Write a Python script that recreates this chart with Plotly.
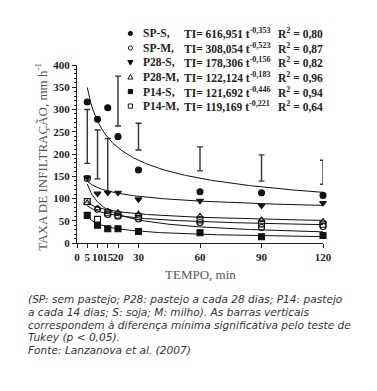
import numpy as np
import plotly.graph_objects as go

# ---- data ----
tempo = [5, 10, 15, 20, 30, 60, 90, 120]
sp_s  = [317, 278, 304, 239, 164, 115, 113, 107]
sp_m  = [145, 76, 64, 60, 54, 46, 35, 37]
p28_s = [147, 111, 113, 113, 98, 95, 84, 90]
p28_m = [90, 78, 71, 68, 65, 60, 52, 48]
p14_s = [62, 40, 32, 32, 26, 23, 14, 17]
p14_m = [93, 53, 68, 63, 59, 52, 43, 42]

# LSD bars (bottom, top)
lsd_t      = [5, 10, 15, 20, 30, 60, 90, 120]
lsd_bottom = [179, 144, 115, 263, 209, 162, 139, 132]
lsd_top    = [300, 254, 235, 375, 269, 216, 198, 186]

series_names = ["SP-S", "SP-M", "P28-S", "P28-M", "P14-S", "P14-M"]
coef_a = [616.951, 308.054, 178.306, 122.124, 121.692, 119.169]
coef_b = [-0.353, -0.523, -0.156, -0.183, -0.446, -0.221]
coef_a_txt = ["616,951", "308,054", "178,306", "122,124", "121,692", "119,169"]
coef_b_txt = ["-0,353", "-0,523", "-0,156", "-0,183", "-0,446", "-0,221"]
r2_txt = ["0,80", "0,87", "0,82", "0,96", "0,94", "0,64"]
symbols = ["circle", "circle-open", "triangle-down", "triangle-up-open", "square", "square-open"]
values = [sp_s, sp_m, p28_s, p28_m, p14_s, p14_m]

xticks = [0, 5, 10, 15, 20, 30, 60, 90, 120]
yticks = [0, 50, 100, 150, 200, 250, 300, 350, 400]

caption = [
    "(SP: sem pastejo; P28: pastejo a cada 28 dias; P14: pastejo",
    "a cada 14 dias; S: soja; M: milho). As barras verticais",
    "correspondem à diferença mínima significativa pelo teste de",
    "Tukey (p < 0,05).",
    "Fonte: Lanzanova et al. (2007)",
]

# page has an 8px body margin; work in page pixel coordinates and compensate
O = 8
W, H = 377 - O, 391 - O
PL, PR, PT, PB = 76.5, 323, 65, 242.7   # plot area in page pixels
L, T = PL - O, PT - O
PW, PH = PR - PL, PB - PT
R, B = W - L - PW, H - T - PH

def px(x):
    return (x - PL) / PW

def py(y):
    return (PB - y) / PH

fig = go.Figure()

# fitted curves
tc = np.linspace(5, 120, 200)
for a, b in zip(coef_a, coef_b):
    fig.add_trace(go.Scatter(x=tc, y=a * tc ** b, mode="lines",
                             line=dict(color="#111", width=1), showlegend=False,
                             hoverinfo="skip"))

# LSD bars
mid = [(lo + hi) / 2 for lo, hi in zip(lsd_bottom, lsd_top)]
half = [(hi - lo) / 2 for lo, hi in zip(lsd_bottom, lsd_top)]
fig.add_trace(go.Scatter(x=lsd_t, y=mid, mode="markers", marker=dict(size=0.1, color="rgba(0,0,0,0)"),
                         error_y=dict(type="data", array=half, visible=True, color="#333",
                                      thickness=1.4, width=3),
                         showlegend=False, cliponaxis=False))

# data points
for vals, sym in zip(values, symbols):
    fig.add_trace(go.Scatter(x=tempo, y=vals, mode="markers",
                             marker=dict(symbol=sym, size=6, color="#111",
                                         line=dict(color="#111", width=1.1)),
                             showlegend=False, cliponaxis=False))

# legend markers as shapes in paper coords
leg_y = [33.5, 48, 62.5, 77, 91.5, 106]
mx = 130
shapes = []
r = 2.1
def P(x, y):
    return f"{px(x):.5f},{py(y):.5f}"
for i, sym in enumerate(symbols):
    y = leg_y[i]
    filled = not sym.endswith("open")
    fc = "#111" if filled else "white"
    if sym.startswith("circle"):
        shapes.append(dict(type="circle", xref="paper", yref="paper",
                           x0=px(mx - r), x1=px(mx + r), y0=py(y + r), y1=py(y - r),
                           line=dict(color="#111", width=1), fillcolor=fc))
    elif sym.startswith("square"):
        shapes.append(dict(type="rect", xref="paper", yref="paper",
                           x0=px(mx - r), x1=px(mx + r), y0=py(y + r), y1=py(y - r),
                           line=dict(color="#111", width=1), fillcolor=fc))
    elif sym == "triangle-down":
        path = f"M {P(mx - 2.6, y - 2.0)} L {P(mx + 2.6, y - 2.0)} L {P(mx, y + 2.6)} Z"
        shapes.append(dict(type="path", xref="paper", yref="paper", path=path,
                           line=dict(color="#111", width=1), fillcolor=fc))
    else:
        path = f"M {P(mx - 2.6, y + 2.0)} L {P(mx + 2.6, y + 2.0)} L {P(mx, y - 2.6)} Z"
        shapes.append(dict(type="path", xref="paper", yref="paper", path=path,
                           line=dict(color="#111", width=1), fillcolor=fc))

ann = []
lfont = dict(family="Liberation Serif", size=11.5, color="#222", weight="bold")
for i in range(6):
    yy = py(leg_y[i])
    ann.append(dict(x=px(142), y=yy, xref="paper", yref="paper", xanchor="left", yanchor="middle",
                    text=series_names[i] + ",", showarrow=False, font=lfont, borderpad=0))
    ann.append(dict(x=px(183), y=yy, xref="paper", yref="paper", xanchor="left", yanchor="middle",
                    text="TI= " + coef_a_txt[i] + " t<sup>" + coef_b_txt[i] + "</sup>",
                    showarrow=False, font=lfont, borderpad=0))
    ann.append(dict(x=px(277), y=yy, xref="paper", yref="paper", xanchor="left", yanchor="middle",
                    text="R<sup>2</sup> = " + r2_txt[i], showarrow=False, font=lfont, borderpad=0))

# axis titles
tfont = dict(family="Liberation Serif", size=13, color="#555", weight="normal")
ann.append(dict(x=px(200), y=py(274), xref="paper", yref="paper", xanchor="center", yanchor="middle",
                text="TEMPO, min", showarrow=False, font=tfont))
ann.append(dict(x=px(41), y=py(157), xref="paper", yref="paper", xanchor="center", yanchor="middle",
                text="TAXA DE INFILTRAÇÃO, mm h<sup>-1</sup>", textangle=-90, showarrow=False, font=tfont))

# caption
cy = [299, 312, 324.5, 337, 349.5]
for line, yy in zip(caption, cy):
    ann.append(dict(x=px(26), y=py(yy), xref="paper", yref="paper", xanchor="left", yanchor="middle",
                    text="<i>" + line + "</i>", showarrow=False, borderpad=0,
                    font=dict(family="DejaVu Sans", size=10.6, color="#333")))

tick_font = dict(family="Liberation Serif", size=11, color="#222", weight="bold")
fig.update_layout(
    template="none",
    width=W, height=H,
    margin=dict(l=L, r=R, t=T, b=B, autoexpand=False),
    paper_bgcolor="white", plot_bgcolor="white",
    xaxis=dict(range=[0, 120], tickmode="array", tickvals=xticks, ticktext=[str(v) for v in xticks],
               showline=True, linecolor="#222", linewidth=1, ticks="outside", ticklen=4,
               tickcolor="#222", showgrid=False, zeroline=False, tickfont=tick_font,
               tickangle=0, automargin=False),
    yaxis=dict(range=[0, 400], tickmode="array", tickvals=yticks,
               showline=True, linecolor="#222", linewidth=1, ticks="outside", ticklen=4,
               tickcolor="#222", showgrid=False, zeroline=False, tickfont=tick_font, automargin=False,
               minor=dict(dtick=10, ticks="outside", ticklen=2, tickcolor="#222", showgrid=False)),
    shapes=shapes,
    annotations=ann,
)

fig.write_html("out.html")
